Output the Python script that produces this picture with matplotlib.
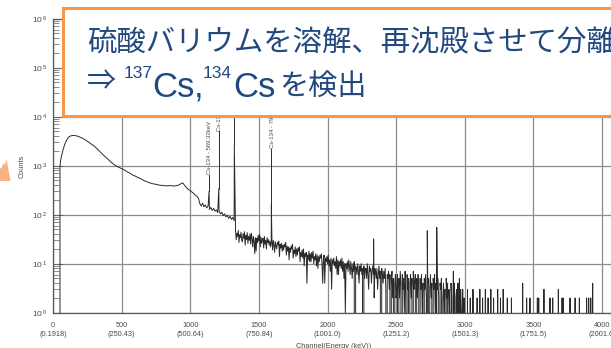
import matplotlib
matplotlib.use("Agg")
import matplotlib.pyplot as plt
from matplotlib.patches import Rectangle, Polygon
from matplotlib.ticker import FixedLocator, FixedFormatter, NullFormatter

W, H, DPI = 611, 348, 100

# ---------------- spectrum data (channel, counts) ----------------
# low-energy part: threshold rise, broad maximum, Compton edge near ch 945
low_ch = [0, 40, 49, 51, 56, 63, 75, 87, 100, 112, 128, 143, 160, 180, 200,
          220, 240, 260, 280, 300, 320, 340, 360, 380, 400, 420, 440, 460,
          480, 500, 520, 540, 560, 580, 600, 620, 640, 660, 680, 700, 720,
          740, 760, 780, 800, 820, 840, 860, 880, 900, 915, 930, 945, 952,
          960, 975, 990, 1005, 1020, 1035, 1050, 1060]
low_counts = [0, 0, 0, 1000, 1300, 1620, 2200, 2800, 3350, 3800, 4050, 4150,
              4120, 4000, 3800, 3560, 3300, 3020, 2780, 2520, 2230, 1960,
              1720, 1530, 1360, 1200, 1080, 985, 925, 870, 820, 750, 705,
              645, 612, 570, 545, 500, 475, 452, 432, 422, 412, 398, 396,
              388, 390, 392, 384, 392, 402, 425, 445, 420, 390, 350, 322,
              300, 280, 255, 235, 215]

# 1070 .. 1320, every 10 channels
mid1_ch = list(range(1070, 1330, 10))
mid1_counts = [168, 150, 172, 145, 158, 138, 150, 128, 141, 122,
               135, 118, 126, 110, 121, 104, 112, 96, 104, 90,
               98, 84, 93, 80, 88, 76]

# 1330 .. 2500, every 5 channels
mid2_ch = list(range(1330, 2505, 5))
mid2_counts = [46, 31, 42, 36, 48, 27, 39, 34, 44, 30,
               28, 41, 33, 45, 24, 38, 31, 43, 26, 36,
               30, 40, 25, 42, 33, 22, 36, 29, 16, 34,
               18, 33, 27, 38, 29, 40, 22, 35, 26, 31,
               33, 21, 36, 25, 30, 20, 34, 27, 31, 24,
               29, 22, 27, 31, 19, 30, 24, 17, 28, 23,
               20, 27, 24, 29, 14, 25, 21, 26, 18, 24,
               19, 25, 22, 27, 15, 23, 18, 22, 12, 21,
               17, 23, 20, 25, 13, 19, 16, 22, 14, 20,
               15, 21, 18, 22, 11, 17, 14, 19, 13, 20,
               9, 16, 14, 17, 4, 15, 12, 18, 11, 16,
               11, 17, 13, 18, 10, 14, 12, 16, 9, 15,
               8, 14, 11, 15, 13, 16, 10, 4, 12, 15,
               4, 13, 11, 14, 10, 15, 9, 12, 7, 13,
               3, 12, 10, 13, 9, 11, 8, 14, 6, 12,
               6, 11, 9, 12, 8, 13, 7, 11, 5, 10,
               1, 10, 8, 11, 7, 12, 9, 6, 11, 8,
               5, 10, 7, 11, 0, 9, 8, 6, 10, 7,
               4, 9, 7, 10, 6, 8, 0, 9, 5, 8,
               8, 5, 10, 6, 3, 9, 7, 8, 4, 7,
               9, 6, 2, 8, 7, 5, 8, 3, 6, 9,
               5, 7, 0, 8, 6, 4, 7, 5, 8, 3,
               0, 6, 5, 7, 3, 6, 0, 5, 7, 2,
               5, 0, 4, 6, 2]

# 2505 .. 3000, every 5 channels
hi1_ch = list(range(2505, 3005, 5))
hi1_counts = [3, 6, 0, 5, 2, 7, 4, 0, 6, 3,
              5, 1, 7, 4, 0, 6, 3, 5, 0, 4,
              6, 2, 5, 0, 7, 3, 4, 6, 0, 5,
              2, 6, 4, 0, 5, 3, 6, 1, 4, 0,
              5, 3, 6, 2, 0, 4, 5, 0, 3, 6,
              2, 4, 0, 5, 3, 6, 1, 4, 0, 3,
              5, 2, 0, 4, 3, 5, 0, 2, 4, 1,
              3, 0, 5, 2, 4, 0, 3, 1, 0, 4,
              2, 0, 3, 1, 4, 0, 2, 3, 0, 4,
              0, 2, 0, 3, 1, 0, 3, 0, 2, 0]

# 3010 .. 3360, every 10 channels
hi2_ch = list(range(3010, 3370, 10))
hi2_counts = [0, 3, 0, 2, 0, 3, 0, 0, 2, 0,
              3, 0, 2, 0, 3, 0, 2, 0, 3, 0,
              2, 0, 0, 3, 0, 2, 0, 3, 0, 0,
              2, 0, 0, 2, 0, 0]

# isolated counts in the high-energy tail (all other channels empty)
tail_ch = [3422, 3451, 3475, 3529, 3539, 3577, 3621, 3641, 3682, 3709,
           3718, 3767, 3804, 3835, 3888, 3903, 3918, 3932]
tail_counts = [4, 2, 2, 2, 2, 3, 2, 2, 3, 2, 2, 2, 2, 2, 2, 2, 2, 4]

# photopeaks
peak_ch = [1137, 1208, 1321, 1591, 2336, 2727, 2796, 2917, 2961]
peak_counts = [300, 340, 2600, 160, 32, 47, 55, 7, 5]

# identified peaks: channel, label, counts level of the label foot
label_ch = [1137, 1208, 1321, 1591]
label_text = ["Cs-134 - 569.32keV", "Cs-134 - 604.70keV",
              "Cs-137 - 661.66keV", "Cs-134 - 795.85keV"]
label_foot = [650, 5000, 20000, 2230]

# axis annotations
x_ticks = [0, 500, 1000, 1500, 2000, 2500, 3000, 3500, 4000]
x_energy = ["0.1918", "250.43", "500.64", "750.84", "1001.0", "1251.2",
            "1501.3", "1751.5", "2001.6"]
y_exponents = [0, 1, 2, 3, 4, 5, 6]

# ---------------- assemble the line ----------------
pts = []
pts += list(zip(low_ch, low_counts))
pts += list(zip(mid1_ch, mid1_counts))
pts += list(zip(mid2_ch, mid2_counts))
pts += list(zip(hi1_ch, hi1_counts))
pts += list(zip(hi2_ch, hi2_counts))
pts += list(zip(peak_ch, peak_counts))
for c, n in zip(tail_ch, tail_counts):
    pts += [(c - 1, 0), (c, n), (c + 1, 0)]
pts.append((4095, 0))
pts.sort()
chs = [p[0] for p in pts]
cnts = [p[1] for p in pts]

plt.rcParams["font.family"] = ["Liberation Sans", "Noto Sans CJK JP", "DejaVu Sans"]
plt.rcParams["mathtext.fontset"] = "custom"
plt.rcParams["mathtext.rm"] = "Liberation Sans"
plt.rcParams["mathtext.it"] = "Liberation Sans"
plt.rcParams["mathtext.bf"] = "Liberation Sans"

fig = plt.figure(figsize=(W / DPI, H / DPI), dpi=DPI)
fig.patch.set_facecolor("white")

# axes box in pixels (x0 at 53 px, 1 decade = 49 px, 4096 channels wide)
ax_l, ax_t, ax_b = 53.0, 18.7, 312.7
ax_w = 4096 * 0.13725
ax = fig.add_axes([ax_l / W, 1 - ax_b / H, ax_w / W, (ax_b - ax_t) / H])

data_col = "#2a2a2a"
grid_col = "#8c8c8c"
txt_col = "#4a4a4a"

ax.set_yscale("log", nonpositive="clip")
ax.plot(chs, cnts, color=data_col, lw=0.7, zorder=3)

peak_height = dict(zip(peak_ch, peak_counts))
for c, t, f in zip(label_ch, label_text, label_foot):
    ax.plot([c, c], [peak_height[c], f], color=data_col, lw=0.7, zorder=3)
    ax.text(c + 6, f * 1.02, t, rotation=90, ha="center", va="bottom",
            fontsize=4.3, color=txt_col, zorder=3)

ax.set_xlim(0, 4096)
ax.set_ylim(1, 1e6)

ax.xaxis.set_major_locator(FixedLocator(x_ticks))
ax.set_xticklabels([f"{c}\n({e})" for c, e in zip(x_ticks, x_energy)],
                   fontsize=5.3, color=txt_col, linespacing=1.35)
ax.tick_params(axis="x", length=0, pad=7)

ax.yaxis.set_major_locator(FixedLocator([10.0 ** e for e in y_exponents]))
ax.yaxis.set_major_formatter(FixedFormatter(
    [r"$10^{\,%d}$" % e for e in y_exponents]))
minor = [m * 10.0 ** e for e in y_exponents[:-1] for m in range(2, 10)]
ax.yaxis.set_minor_locator(FixedLocator(minor))
ax.yaxis.set_minor_formatter(NullFormatter())
ax.tick_params(axis="y", which="major", direction="in", length=7, width=0.7,
               color="#666666", labelsize=6, labelcolor=txt_col, pad=4)
ax.tick_params(axis="y", which="minor", direction="in", length=4, width=0.6,
               color="#777777")

ax.grid(True, which="major", color=grid_col, lw=0.9, zorder=1)
ax.set_axisbelow(True)
for s in ax.spines.values():
    s.set_color("#555555")
    s.set_linewidth(0.9)

fig.text(22.5 / W, 1 - 166.5 / H, "Counts", rotation=90, ha="center",
         va="center", fontsize=5.3, color=txt_col)
fig.text(334 / W, 1 - 342.5 / H, "Channel(Energy (keV))", ha="center",
         va="top", fontsize=5.3, color=txt_col)


def px(x, y):
    return (x / W, 1 - y / H)


# small orange shape at the left edge
fig.add_artist(Polygon([px(0, 181), px(0, 169), px(2, 167), px(3.5, 163),
                        px(5, 165), px(6.5, 159), px(10.5, 181)],
                       closed=True, transform=fig.transFigure,
                       fc="#F9B27E", ec="none", zorder=4))

# orange callout box
x0, y0, x1, y1 = 63.5, 7.5, 660, 115.5
fig.add_artist(Rectangle(px(x0, y1), (x1 - x0) / W, (y1 - y0) / H,
                         transform=fig.transFigure, fc="white",
                         ec="#F79646", lw=2.2, zorder=5))

blue = "#22497F"
cjk = ["Noto Sans CJK JP", "DejaVu Sans"]
lat = ["Liberation Sans", "DejaVu Sans"]

fig.text(*px(87.0, 51.5), "硫酸バリウムを溶解、再沈殿させて分離",
         family=cjk, fontsize=21.2, color=blue, ha="left", va="baseline",
         zorder=6)

fig.text(*px(86.5, 82.0), "⇒", family=cjk, fontsize=21, color=blue,
         ha="left", va="center", zorder=6)
fig.text(*px(123.5, 78.5), "137", family=lat, fontsize=12.5, color=blue,
         ha="left", va="baseline", zorder=6)
fig.text(*px(152.0, 96.5), "Cs", family=lat, fontsize=25, color=blue,
         ha="left", va="baseline", zorder=6)
fig.text(*px(193.5, 96.5), ",", family=lat, fontsize=25, color=blue,
         ha="left", va="baseline", zorder=6)
fig.text(*px(202.5, 78.5), "134", family=lat, fontsize=12.5, color=blue,
         ha="left", va="baseline", zorder=6)
fig.text(*px(233.5, 96.5), "Cs", family=lat, fontsize=25, color=blue,
         ha="left", va="baseline", zorder=6)
fig.text(*px(279.5, 94.5), "を検出", family=cjk, fontsize=21, color=blue,
         ha="left", va="baseline", zorder=6)

fig.savefig("out.png", dpi=DPI, facecolor="white")
